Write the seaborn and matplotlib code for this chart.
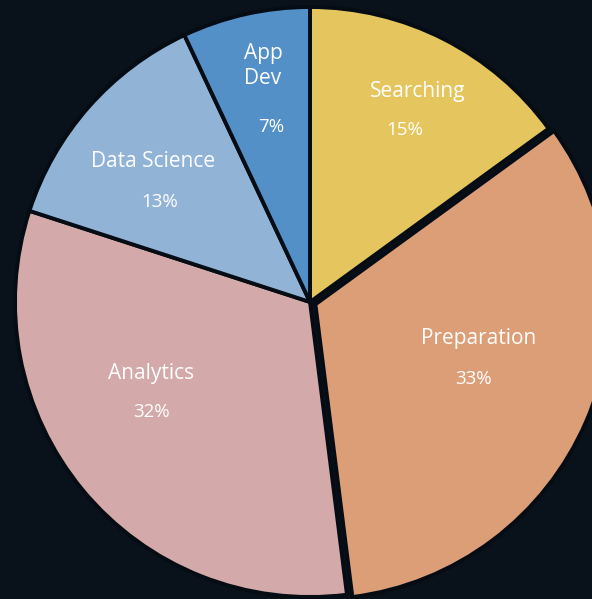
import matplotlib
matplotlib.use("Agg")
import matplotlib.pyplot as plt
import seaborn as sns
import numpy as np

# chart data
categories = ["Searching", "Preparation", "Analytics", "Data Science", "App\nDev"]
shares = [15, 33, 32, 13, 7]
colors = ["#E5C55E", "#DC9E77", "#D3A9A9", "#91B4D6", "#5490C8"]
explode = [0, 0.02, 0, 0, 0]

# label centres in pixels (name, percent)
label_px = [(418, 91), (479, 338), (151, 373), (153, 161), (263, 66)]
pct_px = [(405, 130), (474, 379), (152, 412), (160, 202), (271, 127)]

W, H = 592, 599
cx, cy, R = 310, 302, 295
bg = "#09111B"

sns.set_theme(style="white")
plt.rcParams["font.family"] = ["Open Sans", "DejaVu Sans"]

fig = plt.figure(figsize=(W / 100, H / 100), dpi=100, facecolor=bg)
ax = fig.add_axes([0, 0, 1, 1])
ax.set_facecolor(bg)

ax.pie(shares, colors=colors, explode=explode, startangle=90, counterclock=False,
       radius=1, wedgeprops=dict(edgecolor="#050C14", linewidth=2.8))

def to_data(p):
    return (p[0] - cx) / R, (cy - p[1]) / R

for name, val, lp, pp in zip(categories, shares, label_px, pct_px):
    x, y = to_data(lp)
    ax.text(x, y, name, color="white", fontsize=15, ha="center", va="center",
            linespacing=1.3)
    x, y = to_data(pp)
    ax.text(x, y, f"{val}%", color="white", fontsize=13.5, ha="center", va="center")

ax.set_xlim(-cx / R, (W - cx) / R)
ax.set_ylim(-(H - cy) / R, cy / R)
ax.set_aspect("equal")
ax.axis("off")

fig.savefig("out.png", dpi=100, facecolor=bg)
